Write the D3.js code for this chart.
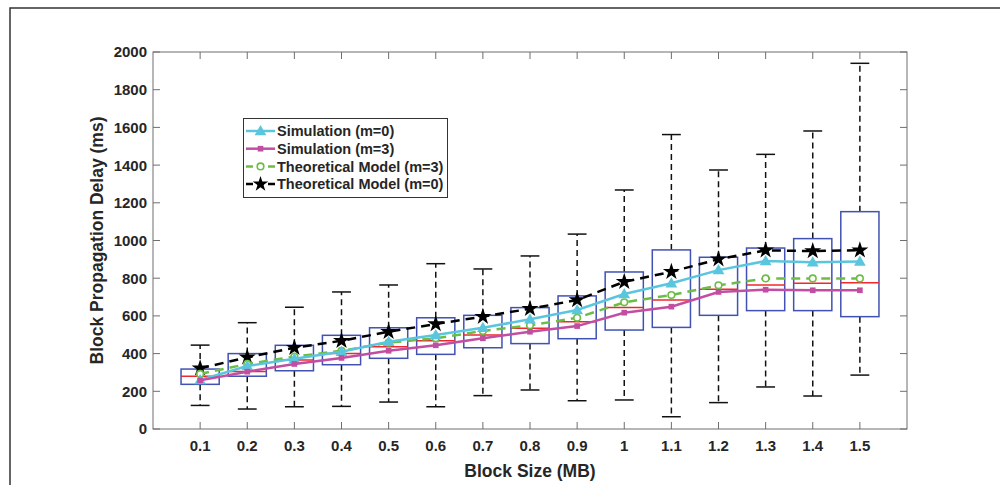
<!DOCTYPE html>
<html>
<head>
<meta charset="utf-8">
<script src="https://cdn.jsdelivr.net/npm/d3@7"></script>
<style>
  body { margin: 0; background: #fff; }
  svg text { font-family: "Liberation Sans", Arial, sans-serif; font-weight: bold; fill: #262626; }
</style>
</head>
<body>
<svg id="chart" width="1000" height="485"></svg>
<script>
// block sizes (MB)
var sizes = ["0.1","0.2","0.3","0.4","0.5","0.6","0.7","0.8","0.9","1","1.1","1.2","1.3","1.4","1.5"];

// box plot stats (ms)
var whiskLow  = [125, 106, 118, 120, 143, 118, 177, 207, 150, 154,  65, 140, 223, 175, 286];
var q1        = [237, 280, 309, 341, 375, 396, 431, 453, 479, 525, 539, 603, 628, 628, 596];
var median    = [280, 305, 366, 400, 437, 468, 499, 534, 569, 644, 684, 741, 764, 773, 776];
var q3        = [318, 400, 444, 497, 537, 590, 603, 644, 706, 833, 950, 911, 960, 1010, 1153];
var whiskHigh = [445, 564, 646, 727, 764, 877, 849, 918, 1034, 1268, 1562, 1374, 1457, 1581, 1940];

// curves
var sim0 = [260, 334, 373, 410, 463, 499, 537, 582, 631, 716, 773, 843, 891, 884, 888];
var sim3 = [258, 304, 345, 377, 415, 444, 481, 516, 546, 617, 649, 727, 739, 736, 736];
var theo3 = [292, 345, 384, 415, 458, 481, 520, 550, 590, 672, 711, 762, 799, 799, 799];
var theo0 = [322, 380, 431, 468, 516, 557, 596, 638, 684, 781, 834, 901, 948, 944, 948];

var yTicks = [0, 200, 400, 600, 800, 1000, 1200, 1400, 1600, 1800, 2000];

var svg = d3.select("#chart");
var x = d3.scaleLinear().domain([0, 16]).range([153, 907]);
var y = d3.scaleLinear().domain([0, 2000]).range([429, 52]);
var boxW = 0.81, capW = 0.4;

// figure frame
svg.append("path").attr("d", "M10,485V8H1000").attr("fill", "none")
  .attr("stroke", "#333").attr("stroke-width", 1.5);

// axes box
var axisCol = "#6e6e6e";
svg.append("rect").attr("x", 153).attr("y", 52).attr("width", 907 - 153).attr("height", 429 - 52)
  .attr("fill", "none").attr("stroke", axisCol).attr("stroke-width", 1);

var gAxes = svg.append("g");
yTicks.forEach(function(t) {
  gAxes.append("line").attr("x1", 153).attr("x2", 160).attr("y1", y(t)).attr("y2", y(t)).attr("stroke", axisCol);
  gAxes.append("line").attr("x1", 907).attr("x2", 900).attr("y1", y(t)).attr("y2", y(t)).attr("stroke", axisCol);
  gAxes.append("text").attr("x", 147).attr("y", y(t)).attr("dy", "0.36em")
    .attr("text-anchor", "end").style("font-size", "15px").text(t);
});
sizes.forEach(function(s, i) {
  var xx = x(i + 1);
  gAxes.append("line").attr("x1", xx).attr("x2", xx).attr("y1", 429).attr("y2", 422).attr("stroke", axisCol);
  gAxes.append("line").attr("x1", xx).attr("x2", xx).attr("y1", 52).attr("y2", 59).attr("stroke", axisCol);
  gAxes.append("text").attr("x", xx).attr("y", 451).attr("text-anchor", "middle")
    .style("font-size", "15px").text(s);
});

svg.append("text").attr("x", 530).attr("y", 477).attr("text-anchor", "middle")
  .style("font-size", "17.5px").text("Block Size (MB)");
svg.append("text").attr("transform", "translate(103,240.5) rotate(-90)").attr("text-anchor", "middle")
  .style("font-size", "17.5px").text("Block Propagation Delay (ms)");

// boxes
var gBox = svg.append("g");
sizes.forEach(function(s, i) {
  var p = i + 1;
  gBox.append("line").attr("x1", x(p)).attr("x2", x(p)).attr("y1", y(q3[i])).attr("y2", y(whiskHigh[i]))
    .attr("stroke", "#111").attr("stroke-width", 1.5).attr("stroke-dasharray", "6,4");
  gBox.append("line").attr("x1", x(p)).attr("x2", x(p)).attr("y1", y(q1[i])).attr("y2", y(whiskLow[i]))
    .attr("stroke", "#111").attr("stroke-width", 1.5).attr("stroke-dasharray", "6,4");
  [whiskHigh[i], whiskLow[i]].forEach(function(v) {
    gBox.append("line").attr("x1", x(p - capW / 2)).attr("x2", x(p + capW / 2)).attr("y1", y(v)).attr("y2", y(v))
      .attr("stroke", "#111").attr("stroke-width", 1.5);
  });
  gBox.append("rect").attr("x", x(p - boxW / 2)).attr("y", y(q3[i]))
    .attr("width", x(p + boxW / 2) - x(p - boxW / 2)).attr("height", y(q1[i]) - y(q3[i]))
    .attr("fill", "none").attr("stroke", "#4152b3").attr("stroke-width", 1.5);
  gBox.append("line").attr("x1", x(p - boxW / 2)).attr("x2", x(p + boxW / 2)).attr("y1", y(median[i])).attr("y2", y(median[i]))
    .attr("stroke", "#f0282d").attr("stroke-width", 1.5);
});

// series
var series = [
  { name: "Simulation (m=0)", data: sim0, color: "#5ac6dd", dash: null, marker: "triangle" },
  { name: "Simulation (m=3)", data: sim3, color: "#c24ea2", dash: null, marker: "square" },
  { name: "Theoretical Model (m=3)", data: theo3, color: "#6cbd45", dash: "9,6", marker: "circle" },
  { name: "Theoretical Model (m=0)", data: theo0, color: "#000", dash: "9,6", marker: "star" }
];
var drawOrder = [series[3], series[2], series[0], series[1]];

function drawMarker(g, s, cx, cy, small) {
  if (s.marker === "circle") {
    g.append("circle").attr("cx", cx).attr("cy", cy).attr("r", 3.3)
      .attr("fill", "#fff").attr("stroke", s.color).attr("stroke-width", 1.6);
  } else {
    var type = s.marker === "star" ? d3.symbolStar : s.marker === "triangle" ? d3.symbolTriangle : d3.symbolSquare;
    var size = s.marker === "star" ? (small ? 75 : 90) : s.marker === "triangle" ? 60 : 32;
    g.append("path").attr("d", d3.symbol().type(type).size(size)())
      .attr("transform", "translate(" + cx + "," + (cy + (s.marker === "triangle" ? 0.8 : 0)) + ")")
      .attr("fill", s.color);
  }
}

var line = d3.line().x(function(d, i) { return x(i + 1); }).y(function(d) { return y(d); });
var gLines = svg.append("g");
drawOrder.forEach(function(s) {
  gLines.append("path").datum(s.data).attr("d", line).attr("fill", "none")
    .attr("stroke", s.color).attr("stroke-width", 2.5).attr("stroke-dasharray", s.dash);
  s.data.forEach(function(v, i) { drawMarker(gLines, s, x(i + 1), y(v)); });
});

// legend
var lg = svg.append("g");
lg.append("rect").attr("x", 243.5).attr("y", 118.5).attr("width", 204).attr("height", 79)
  .attr("fill", "#fff").attr("stroke", "#333").attr("stroke-width", 1);
series.forEach(function(s, i) {
  var ly = 131 + i * 17.7;
  lg.append("line").attr("x1", 246).attr("x2", 275).attr("y1", ly).attr("y2", ly)
    .attr("stroke", s.color).attr("stroke-width", 2.5).attr("stroke-dasharray", s.dash ? "7,4" : null);
  drawMarker(lg, s, 260.5, ly, true);
  lg.append("text").attr("x", 277).attr("y", ly).attr("dy", "0.36em")
    .style("font-size", "14.5px").text(s.name);
});
</script>
</body>
</html>
